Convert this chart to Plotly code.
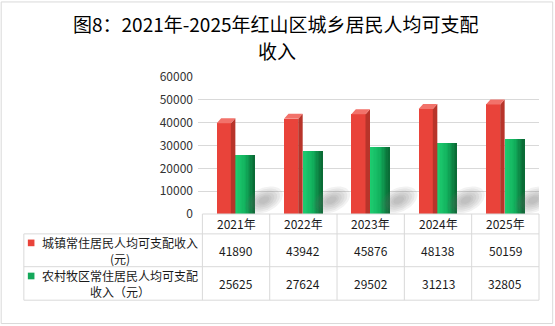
import math
import plotly.graph_objects as go

# ---------------- data ----------------
years = ["2021年", "2022年", "2023年", "2024年", "2025年"]
urban = [41890, 43942, 45876, 48138, 50159]
rural = [25625, 27624, 29502, 31213, 32805]
series_lines = [["城镇常住居民人均可支配收入", "(元)"],
                ["农村牧区常住居民人均可支配", "收入（元）"]]
y_ticks = [0, 10000, 20000, 30000, 40000, 50000, 60000]
title_lines = ["图8：2021年-2025年红山区城乡居民人均可支配", "收入"]

# ---------------- geometry ----------------
W, H = 555, 326
FONT = "Noto Sans CJK SC"
CAT0, CAT1 = 202.4, 539.3          # pixel span of the 5 categories
CW = (CAT1 - CAT0) / len(years)
PL = 198.0                          # plot left pixel (gridlines start)
PT, PB = 76.5, 214.3                # plot top / bottom pixels
YMAX = 60000
XMIN = -0.5 - (CAT0 - PL) / CW
XMAX = len(years) - 0.5
PR = CAT1

def xp(px):
    return (px - PL) / (PR - PL)

def yp(py):
    return (PB - py) / (PB - PT)

def cat_xp(c):
    return (c - XMIN) / (XMAX - XMIN)

UNIT_PER_PX = YMAX / (PB - PT)
DY = 5 * UNIT_PER_PX       # 3D depth vertical (data units)
DX = 4.5 / CW              # 3D depth horizontal (category units)

RED_FRONT = "#E9433A"
RED_SIDE = "#B8342A"
RED_TOP = "#F2726A"
R0, R1 = -19.4 / CW, -5.2 / CW     # red front face offsets
G0, G1 = -0.1 / CW, 19.0 / CW      # green bar offsets

idx = list(range(len(years)))
fig = go.Figure()

# soft shadows to the right of the green bars (stacked translucent ellipses)
ANG = math.radians(25)
for i, v in zip(idx, rural):
    cxp, cyp = 9.0, 14.0           # centre offset in px from green base-right
    for s in [1.0, 0.85, 0.7, 0.55, 0.4, 0.28]:
        a, b = 20.0 * s, 12.0 * s
        xs, ys = [], []
        for k in range(41):
            t = 2 * math.pi * k / 40
            ex, ey = a * math.cos(t), b * math.sin(t)
            rx = ex * math.cos(ANG) - ey * math.sin(ANG)
            ry = ex * math.sin(ANG) + ey * math.cos(ANG)
            xs.append(i + G1 + (cxp + rx) / CW)
            ys.append(max((cyp + ry) * UNIT_PER_PX, 0))
        fig.add_trace(go.Scatter(
            x=xs, y=ys, mode="lines", line=dict(width=0), fill="toself",
            fillcolor="rgba(110,110,110,0.09)",
            hoverinfo="skip", showlegend=False))

# red front faces
fig.add_trace(go.Bar(x=idx, y=[v - DY for v in urban], width=R1 - R0, offset=R0,
                     marker=dict(color=RED_FRONT, line=dict(width=0)),
                     showlegend=False, hoverinfo="skip"))

# red side & top faces
sx, sy, tx, ty = [], [], [], []
for i, v in zip(idx, urban):
    a, b = i + R1, i + R1 + DX
    sx += [a, b, b, a, a, None]
    sy += [0, 0, v, v - DY, 0, None]
    c0 = i + R0
    tx += [c0, a, b, c0 + DX, c0, None]
    ty += [v - DY, v - DY, v, v, v - DY, None]
fig.add_trace(go.Scatter(x=sx, y=sy, mode="lines", line=dict(width=0),
                         fill="toself", fillcolor=RED_SIDE,
                         hoverinfo="skip", showlegend=False))
fig.add_trace(go.Scatter(x=tx, y=ty, mode="lines", line=dict(width=0),
                         fill="toself", fillcolor=RED_TOP,
                         hoverinfo="skip", showlegend=False))

# green bars as shaded strips (cylinder-like gradient)
def lerp(c1, c2, t):
    return "rgb(%d,%d,%d)" % tuple(round(c1[k] + (c2[k] - c1[k]) * t) for k in range(3))

NS = 14
sw = (G1 - G0) / NS
light, mid, dark = (30, 204, 112), (18, 178, 94), (10, 108, 54)
for k in range(NS):
    t = k / (NS - 1)
    col = lerp(light, mid, t / 0.5) if t < 0.5 else lerp(mid, dark, (t - 0.5) / 0.5)
    fig.add_trace(go.Bar(x=idx, y=rural, width=sw * 1.15, offset=G0 + k * sw,
                         marker=dict(color=col, line=dict(width=0)),
                         showlegend=False, hoverinfo="skip"))

# ---------------- table (shapes + annotations) ----------------
GRID = "#D9D9D9"
shapes = []
def hline(x0px, x1px, ypx):
    shapes.append(dict(type="line", xref="paper", yref="paper",
                       x0=xp(x0px), x1=xp(x1px), y0=yp(ypx), y1=yp(ypx),
                       line=dict(color=GRID, width=1)))
def vline(xpaper, y0px, y1px):
    shapes.append(dict(type="line", xref="paper", yref="paper",
                       x0=xpaper, x1=xpaper, y0=yp(y0px), y1=yp(y1px),
                       line=dict(color=GRID, width=1)))

TL = 23.7
ROW_Y = [214.3, 234.3, 267.3, 301.0]
hline(CAT0, CAT1, ROW_Y[0])
for ry in ROW_Y[1:]:
    hline(TL, CAT1, ry)
vline(xp(TL), ROW_Y[1], ROW_Y[3])
for c in range(len(years) + 1):
    vline(cat_xp(c - 0.5), ROW_Y[0], ROW_Y[3])

# legend markers
for (y0, y1), col in zip([(240.0, 246.7), (273.3, 280.0)], [RED_FRONT, "#14A85A"]):
    shapes.append(dict(type="rect", xref="paper", yref="paper",
                       x0=xp(27.7), x1=xp(34.3), y0=yp(y1), y1=yp(y0),
                       fillcolor=col, line=dict(width=0)))

# outer border
shapes.append(dict(type="rect", xref="paper", yref="paper",
                   x0=xp(1), x1=xp(553), y0=yp(324.5), y1=yp(1),
                   line=dict(color=GRID, width=1), fillcolor="rgba(0,0,0,0)"))

ann = []
TXT = "#1a1a1a"
def text(s, xpaper, ypx, size=12, color=TXT):
    ann.append(dict(text=s, xref="paper", yref="paper", x=xpaper, y=yp(ypx),
                    xanchor="center", yanchor="middle", showarrow=False,
                    font=dict(family=FONT, size=size, color=color)))

hdr_y = (ROW_Y[0] + ROW_Y[1]) / 2
r1_y = (ROW_Y[1] + ROW_Y[2]) / 2
r2_y = (ROW_Y[2] + ROW_Y[3]) / 2
for i, (yr, u, r) in enumerate(zip(years, urban, rural)):
    text(yr, cat_xp(i), hdr_y)
    text(str(u), cat_xp(i), r1_y + 0.5)
    text(str(r), cat_xp(i), r2_y + 0.5)

for lines, cy in zip(series_lines, [r1_y, r2_y]):
    text("<br>".join(lines), xp(120), cy + 0.5)

# title (two separate lines)
text(title_lines[0], xp(276.5), 22.8, size=19, color="#000000")
text(title_lines[1], xp(277), 50.2, size=19, color="#000000")

fig.update_layout(
    width=W, height=H,
    margin=dict(l=PL, r=W - PR, t=PT, b=H - PB, pad=0),
    paper_bgcolor="white", plot_bgcolor="white",
    barmode="overlay", bargap=0,
    showlegend=False,
    shapes=shapes, annotations=ann,
    font=dict(family=FONT, size=12, color=TXT),
    xaxis=dict(range=[XMIN, XMAX], showgrid=False, zeroline=False,
               showticklabels=False, showline=False, ticks="", fixedrange=True),
    yaxis=dict(range=[0, YMAX], tickvals=y_ticks, ticktext=[str(t) for t in y_ticks],
               showgrid=True, gridcolor=GRID, gridwidth=1, zeroline=False,
               showline=False, ticks="", ticklabelstandoff=4,
               tickfont=dict(family=FONT, size=12, color="#333333"),
               fixedrange=True),
)

fig.write_html("out.html")
